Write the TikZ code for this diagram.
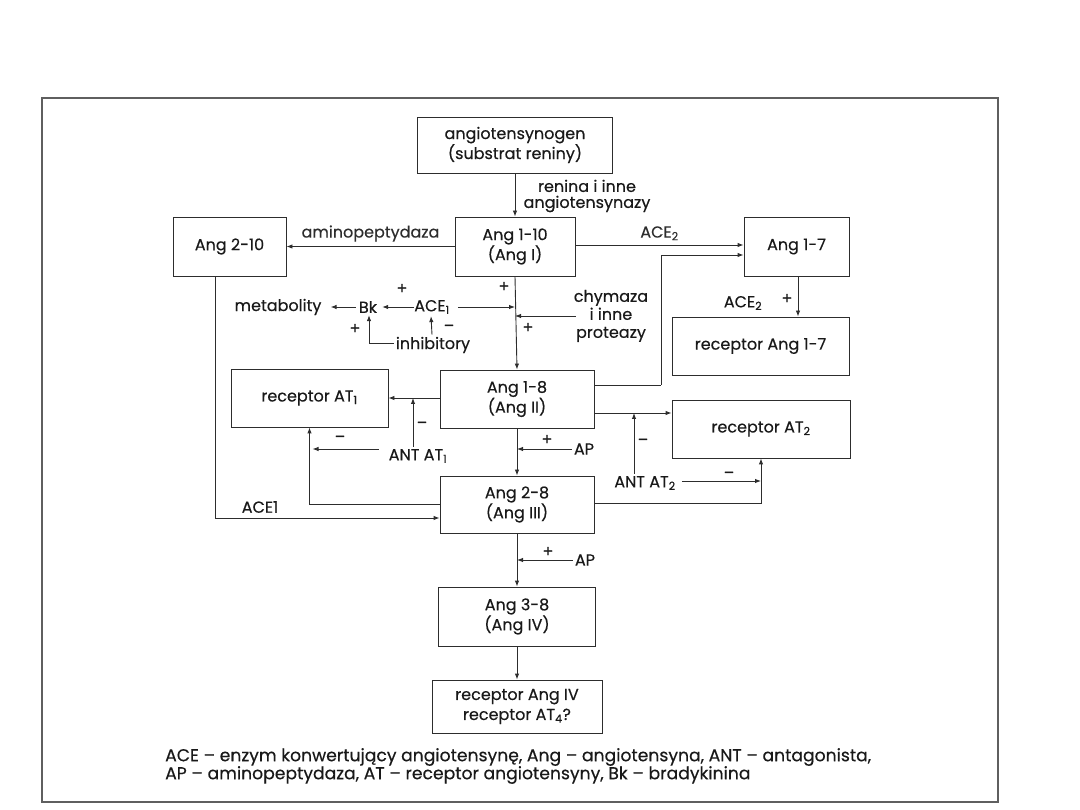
\documentclass[tikz,border=0pt]{standalone}
\usepackage{fontspec}
\setmainfont{Poppins}[FakeBold=0.4]
\usetikzlibrary{arrows.meta, positioning}
\usepackage{xcolor}
\definecolor{linecol}{RGB}{45,45,45}
\definecolor{textcol}{RGB}{25,25,25}
\definecolor{framecol}{RGB}{95,95,95}

\begin{document}
\begin{tikzpicture}[
    x=1pt, y=-1pt,
    font=\fontsize{16}{20}\selectfont, text=textcol,
    box/.style    = {rectangle, draw=linecol, line width=0.9pt, inner sep=0pt,
                     align=center},
    lbl/.style    = {inner sep=2pt, align=center},
    sgn/.style    = {inner sep=0pt},
    arrow/.style  = {-{Latex[length=6pt,width=4.5pt]}, line width=0.9pt,
                     color=linecol},
    conn/.style   = {line width=0.9pt, color=linecol},
]
\useasboundingbox (0,0) rectangle (1080,810);

% ── Frame ───────────────────────────────────────────────────────
\draw[framecol, line width=1.2pt] (42,98) rectangle (998,802);

% ── Main column ─────────────────────────────────────────────────
\node[box, minimum width=195pt, minimum height=56pt] (agen) at (515,145)
    {angiotensynogen\\(substrat reniny)};
\node[box, minimum width=120pt, minimum height=59pt] (a110) at (515,246.5)
    {Ang 1-10\\(Ang I)};
\node[box, minimum width=154pt, minimum height=58pt] (a18) at (517,399)
    {Ang 1-8\\(Ang II)};
\node[box, minimum width=154pt, minimum height=57pt] (a28) at (517,504.5)
    {Ang 2-8\\(Ang III)};
\node[box, minimum width=157pt, minimum height=59pt] (a38) at (517,616.5)
    {Ang 3-8\\(Ang IV)};
\node[box, minimum width=170pt, minimum height=53pt] (r4) at (517,706.5)
    {receptor Ang IV\\receptor AT\textsubscript{4}?};

% ── Side boxes ──────────────────────────────────────────────────
\node[box, minimum width=113pt, minimum height=59pt] (a210) at (229.5,246.5)
    {Ang 2-10};
\node[box, minimum width=105pt, minimum height=59pt] (a17) at (796.5,246.5)
    {Ang 1-7};
\node[box, minimum width=177pt, minimum height=58pt] (r17) at (760.5,346)
    {receptor Ang 1-7};
\node[box, minimum width=157pt, minimum height=58pt] (rat1) at (309.5,398)
    {receptor AT\textsubscript{1}};
\node[box, minimum width=178pt, minimum height=58pt] (rat2) at (761,429)
    {receptor AT\textsubscript{2}};

% ── Main column arrows ──────────────────────────────────────────
\draw[arrow] (agen.south) -- (a110.north);
\draw[arrow] (a110.south) -- (a18.north);
\draw[arrow] (a18.south) -- (a28.north);
\draw[arrow] (a28.south) -- (a38.north);
\draw[arrow] (a38.south) -- (r4.north);

\node[lbl] (ren) at (587,196) {renina i inne\\[-4pt]angiotensynazy};
\node[sgn] at (504,287) {+};

% ── Ang 1-10 side branches ──────────────────────────────────────
\draw[arrow] (a110.west) -- (a210.east)
    node[midway, above=1pt] (amino) {aminopeptydaza};
\draw[arrow] ([yshift=1.5pt]a110.east) -- ([yshift=1.5pt]a17.west)
    node[midway, above=1pt] (ace2a) {ACE\textsubscript{2}};
\coordinate (bend17) at (661,385);
\draw[conn] ([yshift=14pt]a18.east) -- (bend17);
\draw[arrow] (bend17) |- ([yshift=-8.5pt]a17.west);
\draw[arrow] ([xshift=1.5pt]a17.south) -- ([xshift=1.5pt]a17.south |- r17.north);
\node[sgn] (ace2b) at (743,303) {ACE\textsubscript{2}};
\node[sgn] at (787,299) {+};

% ── ACE1 / bradykinin row ───────────────────────────────────────
\node[lbl] (met) at (278,307) {metabolity};
\node[lbl] (bk) at (368,307) {Bk};
\node[lbl] (ace1) at (432,307) {ACE\textsubscript{1}};
\node[lbl] (inh) at (433,345) {inhibitory};
\draw[arrow] ([xshift=-1pt]bk.west) -- ([xshift=7pt]met.east);
\draw[arrow] ([xshift=2pt]ace1.west) -- ([xshift=3pt]bk.east);
\draw[arrow] ([xshift=6pt]ace1.east) -- (ace1.east -| a110.south);
\draw[arrow] ([xshift=-1pt]inh.north) -- ([xshift=-1pt]ace1.south);
\draw[arrow] ([yshift=2pt]inh.west) -| ([xshift=1pt]bk.south);
\node[sgn] at (402,289) {+};
\node[sgn] at (355,329) {+};
\node[sgn] at (449,328) {–};

% ── Chymase ─────────────────────────────────────────────────────
\node[lbl] (chym) at (611,316) {chymaza\\[-2pt]i inne\\[-2pt]proteazy};
\draw[arrow] ([xshift=4pt]chym.west) -- (chym.west -| a110.south);
\node[sgn] at (528,328) {+};

% ── AT1 receptor ────────────────────────────────────────────────
\draw[arrow] (a18.west |- rat1.east) -- (rat1.east);
\node[lbl] (antat1) at (418,456) {ANT AT\textsubscript{1}};
\draw[arrow] ([xshift=-5pt]antat1.north) -- ([xshift=-5pt]antat1.north |- rat1.east);
\draw[arrow] ([xshift=-8pt,yshift=7pt]antat1.west)
    -- ([xshift=3pt,yshift=7pt]antat1.west -| rat1.south);
\draw[arrow] (a28.west |- 0,504) -| (rat1.south);
\node[sgn] at (422,425) {–};
\node[sgn] at (340,439) {–};

% ── ACE1 bypass from Ang 2-10 ───────────────────────────────────
\draw[arrow] ([xshift=-14.5pt]a210.south) |- ([yshift=-13.5pt]a28.west);
\node[sgn] (ace1b) at (260,507) {ACE1};

% ── AP steps ────────────────────────────────────────────────────
\node[lbl] (ap1) at (584,449) {AP};
\draw[arrow] (ap1.west) -- (ap1.west -| a18.south);
\node[sgn] at (547,440) {+};
\node[lbl] (ap2) at (585,560) {AP};
\draw[arrow] (ap2.west) -- (ap2.west -| a28.south);
\node[sgn] at (548,552) {+};

% ── AT2 receptor ────────────────────────────────────────────────
\coordinate (at2in) at (595,413);
\draw[arrow] (at2in) -- (at2in -| rat2.west);
\node[lbl] (antat2) at (645,483) {ANT AT\textsubscript{2}};
\draw[arrow] ([xshift=-11pt]antat2.north) -- ([xshift=-11pt]antat2.north |- at2in);
\draw[arrow] ([xshift=4pt,yshift=2pt]antat2.east) -- ([yshift=2pt]antat2.east -| rat2.south);
\draw[arrow] ([yshift=1pt]a28.east) -| (rat2.south);
\node[sgn] at (643,442) {–};
\node[sgn] at (729,475) {–};

% ── Legend ──────────────────────────────────────────────────────
\node[lbl, anchor=west, align=left, inner sep=0pt, font=\fontsize{17.2}{18}\selectfont]
    (legend) at (165,766)
    {ACE – enzym konwertujący angiotensynę, Ang – angiotensyna, ANT – antagonista,\\
     AP – aminopeptydaza, AT – receptor angiotensyny, Bk – bradykinina};

\end{tikzpicture}
\end{document}
